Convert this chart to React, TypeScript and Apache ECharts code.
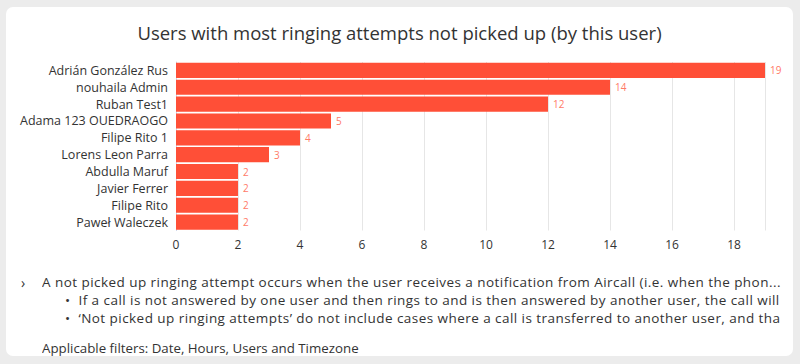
import React, { useEffect, useRef } from "react";
import * as echarts from "echarts";

const categories = [
  "Adrián González Rus",
  "nouhaila Admin",
  "Ruban Test1",
  "Adama 123 OUEDRAOGO",
  "Filipe Rito 1",
  "Lorens Leon Parra",
  "Abdulla Maruf",
  "Javier Ferrer",
  "Filipe Rito",
  "Paweł Waleczek",
];
const values = [19, 14, 12, 5, 4, 3, 2, 2, 2, 2];
const xTicks = [0, 2, 4, 6, 8, 10, 12, 14, 16, 18];

const FONT = "'Open Sans', 'Noto Sans', sans-serif";

export default function App() {
  const ref = useRef<HTMLDivElement>(null);
  useEffect(() => {
    if (!ref.current) return;
    const chart = echarts.init(ref.current, undefined, { renderer: "svg" });
    chart.setOption({
      animation: false,
      textStyle: { fontFamily: FONT },
      title: {
        text: "Users with most ringing attempts not picked up (by this user)",
        left: "center",
        top: 11,
        textStyle: { fontSize: 18.5, fontWeight: "normal", color: "#333333", fontFamily: FONT },
      },
      grid: { left: 170, top: 55, width: 589, height: 168.5, containLabel: false },
      xAxis: {
        type: "value",
        min: 0,
        max: 19,
        interval: 2,
        axisLine: { show: false },
        axisTick: { show: false },
        splitLine: { show: true, lineStyle: { color: "#e6e6e6", width: 1 } },
        axisLabel: {
          color: "#333333",
          fontSize: 12,
          margin: 8,
          formatter: (v: number) => (xTicks.includes(v) ? String(v) : ""),
        },
      },
      yAxis: {
        type: "category",
        data: categories,
        inverse: true,
        axisLine: { show: true, lineStyle: { color: "#ccd6eb", width: 1 } },
        axisTick: { show: false },
        axisLabel: { color: "#333333", fontSize: 12.5, margin: 8, interval: 0, lineHeight: 14 },
      },
      series: [
        {
          type: "bar",
          data: values,
          barCategoryGap: "10%",
          itemStyle: { color: "#ff4f37" },
          label: {
            show: true,
            position: "right",
            distance: 5,
            color: "#ff7a68",
            fontSize: 10,
          },
        },
      ],
    });
    return () => chart.dispose();
  }, []);

  const textStyle: React.CSSProperties = {
    position: "absolute",
    fontFamily: FONT,
    fontSize: 13.5,
    letterSpacing: "0.45px",
    color: "#333333",
    whiteSpace: "nowrap",
    overflow: "hidden",
    lineHeight: "18px",
  };

  return (
    <div
      style={{
        position: "absolute",
        left: 0,
        top: 0,
        width: 800,
        height: 364,
        background: "#ececec",
        overflow: "hidden",
      }}
    >
      <div
        style={{
          position: "absolute",
          left: 6,
          top: 7,
          width: 787,
          height: 349,
          background: "#ffffff",
          borderRadius: 7,
          overflow: "hidden",
        }}
      >
        <div ref={ref} style={{ position: "absolute", left: 0, top: 0, width: 787, height: 255 }} />
        <div style={{ ...textStyle, left: 15, top: 267, fontSize: 14 }}>›</div>
        <div style={{ ...textStyle, left: 36, top: 266 }}>
          A not picked up ringing attempt occurs when the user receives a notification from Aircall (i.e. when the phon...
        </div>
        <div style={{ ...textStyle, left: 59, top: 284 }}>
          •&nbsp;&nbsp;If a call is not answered by one user and then rings to and is then answered by another user, the call will
        </div>
        <div style={{ ...textStyle, left: 59, top: 302 }}>
          •&nbsp;&nbsp;‘Not picked up ringing attempts’ do not include cases where a call is transferred to another user, and tha
        </div>
        <div style={{ ...textStyle, left: 36, top: 332, fontSize: 13.3, letterSpacing: "0px" }}>
          Applicable filters: Date, Hours, Users and Timezone
        </div>
      </div>
    </div>
  );
}
